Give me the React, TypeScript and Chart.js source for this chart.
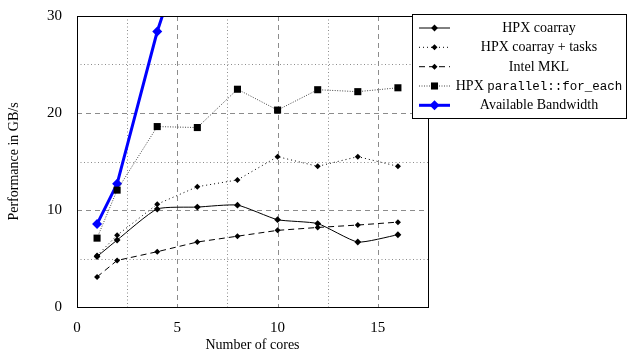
import React, { useEffect, useRef } from "react";
import { Chart, registerables } from "chart.js";

Chart.register(...registerables);

// ---------- data ----------
const cores = [1, 2, 4, 6, 8, 10, 12, 14, 16];
const hpxCoarray = [5.2, 6.9, 10.1, 10.3, 10.5, 9.0, 8.6, 6.7, 7.45];
const hpxCoarrayTasks = [5.3, 7.4, 10.6, 12.4, 13.1, 15.5, 14.5, 15.5, 14.5];
const intelMkl = [3.1, 4.8, 5.7, 6.7, 7.3, 7.9, 8.2, 8.45, 8.75];
const hpxForEach = [7.1, 12.05, 18.6, 18.5, 22.45, 20.3, 22.4, 22.2, 22.6];
const bandwidthCores = [1, 2, 4, 6];
const availableBandwidth = [8.55, 12.7, 28.4, 41];

const xTicks = [0, 5, 10, 15];
const yTicks = [0, 10, 20, 30];
const xMajorGrid = [5, 10, 15];
const xMinorGrid = [2.5, 7.5, 12.5];
const yMajorGrid = [10, 20];
const yMinorGrid = [5, 15, 25];

const labels = [
  "HPX coarray",
  "HPX coarray + tasks",
  "Intel MKL",
  "HPX parallel::for_each",
  "Available Bandwidth",
];

const SERIF = '"Liberation Serif", "Times New Roman", serif';
const MONO = '"Liberation Mono", "DejaVu Sans Mono", monospace';

const pts = (xs: number[], ys: number[]) => xs.map((x, i) => ({ x, y: ys[i] }));

function drawMarker(ctx: CanvasRenderingContext2D, style: string, x: number, y: number, r: number, color: string) {
  ctx.save();
  ctx.setLineDash([]);
  ctx.fillStyle = color;
  ctx.beginPath();
  if (style === "rect") {
    const s = Math.SQRT1_2 * r;
    ctx.rect(x - s, y - s, 2 * s, 2 * s);
  } else {
    ctx.moveTo(x, y - r);
    ctx.lineTo(x + r, y);
    ctx.lineTo(x, y + r);
    ctx.lineTo(x - r, y);
    ctx.closePath();
  }
  ctx.fill();
  ctx.restore();
}

const gridPlugin = {
  id: "customGrid",
  beforeDatasetsDraw(chart: any) {
    const { ctx, chartArea } = chart;
    const xs = chart.scales.x;
    const ys = chart.scales.y;
    const { left, right, top, bottom } = chartArea;
    ctx.save();
    ctx.strokeStyle = "#8c8c8c";
    ctx.lineWidth = 1;
    const vline = (v: number) => {
      const p = Math.round(xs.getPixelForValue(v)) + 0.5;
      ctx.beginPath();
      ctx.moveTo(p, top);
      ctx.lineTo(p, bottom);
      ctx.stroke();
    };
    const hline = (v: number) => {
      const p = Math.round(ys.getPixelForValue(v)) + 0.5;
      ctx.beginPath();
      ctx.moveTo(left, p);
      ctx.lineTo(right, p);
      ctx.stroke();
    };
    ctx.setLineDash([1, 2.5]);
    xMinorGrid.forEach(vline);
    yMinorGrid.forEach(hline);
    ctx.setLineDash([5, 4]);
    xMajorGrid.forEach(vline);
    yMajorGrid.forEach(hline);
    ctx.restore();
  },
  afterDatasetsDraw(chart: any) {
    const { ctx, chartArea } = chart;
    const { left, right, top, bottom } = chartArea;
    ctx.save();
    ctx.strokeStyle = "#000";
    ctx.lineWidth = 1;
    ctx.setLineDash([]);
    ctx.strokeRect(Math.round(left) + 0.5, Math.round(top) + 0.5, Math.round(right - left), Math.round(bottom - top));
    ctx.restore();
  },
};

const legendPlugin = {
  id: "customLegend",
  afterDraw(chart: any) {
    const { ctx } = chart;
    const boxL = 412.5;
    const boxT = 14.5;
    const boxR = 626.5;
    const boxB = 118.5;
    ctx.save();
    ctx.fillStyle = "#fff";
    ctx.fillRect(boxL, boxT, boxR - boxL, boxB - boxT);
    ctx.strokeStyle = "#000";
    ctx.lineWidth = 1;
    ctx.setLineDash([]);
    ctx.strokeRect(boxL, boxT, boxR - boxL, boxB - boxT);

    const rowY = [28, 47.3, 66.7, 86, 105.3];
    const textCenter = 539;
    chart.data.datasets.forEach((ds: any, i: number) => {
      const y = rowY[i];
      ctx.save();
      ctx.strokeStyle = ds.borderColor;
      ctx.lineWidth = ds.borderWidth;
      ctx.setLineDash(ds.borderDash || []);
      ctx.beginPath();
      ctx.moveTo(419, y);
      ctx.lineTo(450, y);
      ctx.stroke();
      ctx.restore();
      drawMarker(ctx, ds.pointStyle, 434.5, y, ds.pointRadius, ds.pointBackgroundColor);

      ctx.fillStyle = "#000";
      ctx.textBaseline = "middle";
      const label: string = ds.label;
      if (label.startsWith("HPX parallel")) {
        const a = "HPX ";
        const b = label.slice(4);
        ctx.font = `14px ${SERIF}`;
        const wa = ctx.measureText(a).width;
        ctx.font = `12.5px ${MONO}`;
        const wb = ctx.measureText(b).width;
        const x0 = textCenter - (wa + wb) / 2;
        ctx.textAlign = "left";
        ctx.font = `14px ${SERIF}`;
        ctx.fillText(a, x0, y + 0.5);
        ctx.font = `12.5px ${MONO}`;
        ctx.fillText(b, x0 + wa, y + 0.5);
      } else {
        ctx.font = `14px ${SERIF}`;
        ctx.textAlign = "center";
        ctx.fillText(label, textCenter, y + 0.5);
      }
    });
    ctx.restore();
  },
};

export default function App() {
  const ref = useRef<HTMLCanvasElement | null>(null);

  useEffect(() => {
    if (!ref.current) return;
    const chart = new Chart(ref.current, {
      type: "line",
      data: {
        datasets: [
          {
            label: labels[0],
            data: pts(cores, hpxCoarray),
            borderColor: "#000",
            borderWidth: 1,
            borderDash: [],
            tension: 0.18,
            pointStyle: "rectRot",
            pointRadius: 3.4,
            pointBackgroundColor: "#000",
            pointBorderColor: "#000",
            pointBorderWidth: 0,
            clip: 0,
          },
          {
            label: labels[1],
            data: pts(cores, hpxCoarrayTasks),
            borderColor: "#000",
            borderWidth: 1,
            borderDash: [1, 3],
            tension: 0,
            pointStyle: "rectRot",
            pointRadius: 3,
            pointBackgroundColor: "#000",
            pointBorderColor: "#000",
            pointBorderWidth: 0,
            clip: 0,
          },
          {
            label: labels[2],
            data: pts(cores, intelMkl),
            borderColor: "#000",
            borderWidth: 1,
            borderDash: [6, 4],
            tension: 0,
            pointStyle: "rectRot",
            pointRadius: 3,
            pointBackgroundColor: "#000",
            pointBorderColor: "#000",
            pointBorderWidth: 0,
            clip: 0,
          },
          {
            label: labels[3],
            data: pts(cores, hpxForEach),
            borderColor: "#444",
            borderWidth: 1,
            borderDash: [1, 1.5],
            tension: 0,
            pointStyle: "rect",
            pointRadius: 5,
            pointBackgroundColor: "#000",
            pointBorderColor: "#000",
            pointBorderWidth: 0,
            clip: 0,
          },
          {
            label: labels[4],
            data: pts(bandwidthCores, availableBandwidth),
            borderColor: "#0000ff",
            borderWidth: 3,
            borderDash: [],
            tension: 0,
            pointStyle: "rectRot",
            pointRadius: 5,
            pointBackgroundColor: "#0000ff",
            pointBorderColor: "#0000ff",
            pointBorderWidth: 0,
            clip: 0,
          },
        ] as any,
      },
      options: {
        responsive: false,
        maintainAspectRatio: false,
        animation: false,
        devicePixelRatio: 1,
        events: [],
        layout: { padding: { left: 0, right: 199, top: 14, bottom: 0 } },
        plugins: {
          legend: { display: false },
          tooltip: { enabled: false },
        },
        scales: {
          x: {
            type: "linear",
            min: 0,
            max: 17.5,
            grid: { display: false },
            border: { display: false },
            afterBuildTicks: (s: any) => {
              s.ticks = xTicks.map((v) => ({ value: v }));
            },
            afterFit: (s: any) => {
              s.height = 47;
            },
            ticks: {
              color: "#000",
              font: { family: SERIF, size: 15 },
              padding: 4,
              maxRotation: 0,
              autoSkip: false,
            },
            title: {
              display: true,
              text: "Number of cores",
              color: "#000",
              font: { family: SERIF, size: 14 },
              padding: { top: 0, bottom: 0 },
            },
          },
          y: {
            type: "linear",
            min: 0,
            max: 30,
            grid: { display: false },
            border: { display: false },
            afterBuildTicks: (s: any) => {
              s.ticks = yTicks.map((v) => ({ value: v }));
            },
            afterFit: (s: any) => {
              s.width = 77;
            },
            ticks: {
              color: "#000",
              font: { family: SERIF, size: 15 },
              padding: 7,
              autoSkip: false,
            },
            title: {
              display: true,
              text: "Performance in GB/s",
              color: "#000",
              font: { family: SERIF, size: 14 },
              padding: { top: 5.5, bottom: 0 },
            },
          },
        },
      } as any,
      plugins: [gridPlugin, legendPlugin],
    });
    return () => chart.destroy();
  }, []);

  return (
    <div style={{ position: "absolute", left: 0, top: 0, width: 627, height: 354, background: "#fff" }}>
      <canvas ref={ref} width={627} height={354} style={{ width: 627, height: 354, display: "block" }} />
    </div>
  );
}
